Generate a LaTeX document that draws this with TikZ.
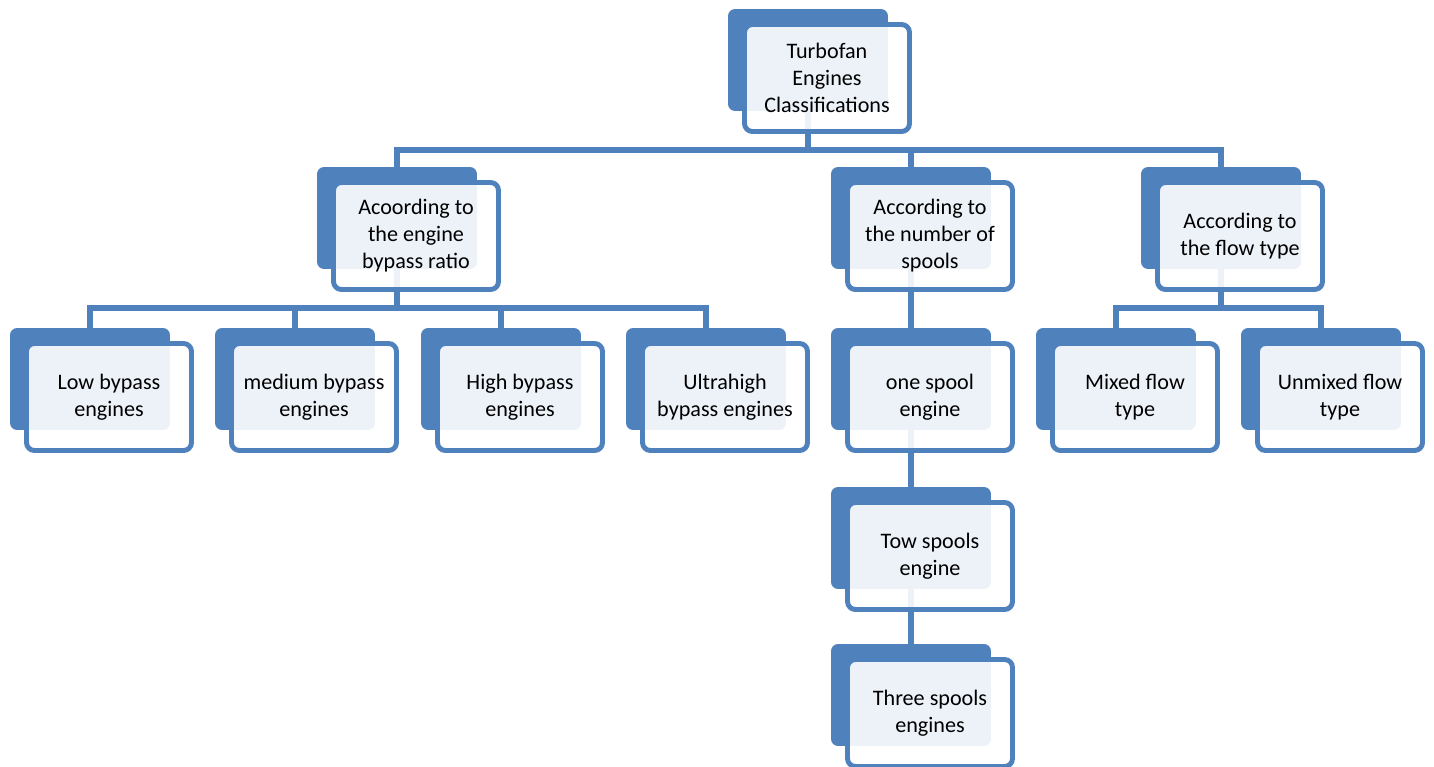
\documentclass[tikz,border=0pt]{standalone}
\usepackage{fontspec}
\setmainfont{Carlito}
\usepackage{tikz}
\usetikzlibrary{calc,backgrounds}

\definecolor{engblue}{HTML}{4F81BD}

\tikzset{
	backbox/.style={fill=engblue, rounded corners=4pt, minimum width=3.2cm, minimum height=2.04cm, inner sep=0pt},
	frontbox/.style={draw=engblue, line width=2.8pt, fill=white, fill opacity=0.9, text opacity=1,
		rounded corners=4.5pt, minimum width=3.3cm, minimum height=2.14cm, inner sep=0pt,
		align=center, font=\fontsize{12.6}{15.4}\selectfont},
	link/.style={draw=engblue, line width=3.2pt}
}

\begin{document}
\begin{tikzpicture}[x=0.02cm, y=-0.02cm]
		\useasboundingbox (0,0) rectangle (1434,767);
		% boxes: name / x / y / text
		\foreach \n/\x/\y/\t in {
			classes/827/78/{Turbofan\\Engines\\Classifications},
			ratio/416/236/{Acoording to\\the engine\\bypass ratio},
			spools/930/236/{According to\\the number of\\spools},
			flow/1240/236/{According to\\the flow type},
			low/109/397/{Low bypass\\engines},
			medium/314/397/{medium bypass\\engines},
			high/520/397/{High bypass\\engines},
			ultra/725/397/{Ultrahigh\\bypass engines},
			one/930/397/{one spool\\engine},
			two/930/556/{Tow spools\\engine},
			three/930/713/{Three spools\\engines},
			mixed/1135/397/{Mixed flow\\type},
			unmixed/1340/397/{Unmixed flow\\type}}
		{
			\node[backbox] (\n-b) at (\x-19,\y-18) {};
			\node[frontbox] (\n) at (\x,\y) {\t};
		}
		\coordinate (bus1) at (0,150);
		\coordinate (bus2) at (0,308);
		\begin{scope}[on background layer]
			\foreach \c in {ratio,spools,flow}
				\draw[link] (classes-b.center) -- (classes-b.center |- bus1) -| (\c-b.center);
			\foreach \c in {low,medium,high,ultra}
				\draw[link] (ratio-b.center) -- (ratio-b.center |- bus2) -| (\c-b.center);
			\foreach \c in {mixed,unmixed}
				\draw[link] (flow-b.center) -- (flow-b.center |- bus2) -| (\c-b.center);
			\draw[link] (spools-b.center) -- (one-b.center) -- (two-b.center) -- (three-b.center);
		\end{scope}
\end{tikzpicture}
\end{document}
